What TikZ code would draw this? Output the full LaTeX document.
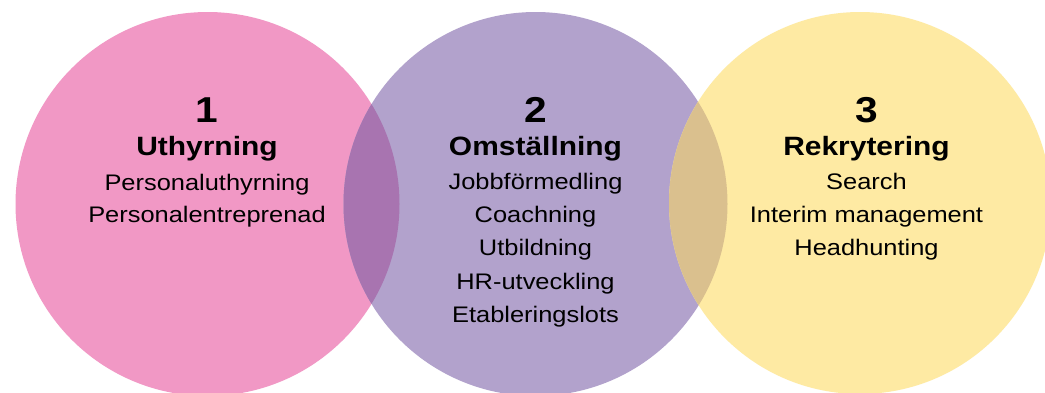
\documentclass[tikz,border=0pt]{standalone}
\usepackage{fontspec}
\setmainfont{Liberation Sans}[FakeStretch=1.13]
\definecolor{pinkc}{RGB}{241,152,197}
\definecolor{purplec}{RGB}{178,162,204}
\definecolor{yellowc}{RGB}{254,234,163}
\definecolor{ovpp}{RGB}{168,116,176}
\definecolor{ovpy}{RGB}{218,192,142}
\tikzset{
  numtxt/.style={anchor=base, inner sep=0pt, font=\fontsize{36}{40}\selectfont\bfseries},
  headtxt/.style={anchor=base, inner sep=0pt, font=\fontsize{26.5}{30}\selectfont\bfseries},
  itemtxt/.style={anchor=base, inner sep=0pt, font=\fontsize{22.5}{26}\selectfont},
}
\begin{document}
\begin{tikzpicture}[x=1pt,y=-1pt]
\clip (0,0) rectangle (1045,392);
\fill[white] (0,0) rectangle (1045,392);
\coordinate (c1) at (207.5,204);
\coordinate (c2) at (535.5,204);
\coordinate (c3) at (860,203);
\fill[pinkc] (c1) circle[radius=192];
\fill[purplec] (c2) circle[radius=192];
\fill[yellowc] (c3) circle[radius=191];
\begin{scope}
  \clip (c1) circle[radius=192];
  \fill[ovpp] (c2) circle[radius=192];
\end{scope}
\begin{scope}
  \clip (c2) circle[radius=192];
  \fill[ovpy] (c3) circle[radius=191];
\end{scope}
% circle 1
\node[numtxt] (n1) at (207,122.3) {1};
\node[headtxt] (h1) at (207,155.7) {Uthyrning};
\node[itemtxt] (a1) at (207,190) {Personaluthyrning};
\node[itemtxt] (a2) at (207,222.3) {Personalentreprenad};
% circle 2
\node[numtxt] (n2) at (535.5,122.3) {2};
\node[headtxt] (h2) at (535.5,155.7) {Omställning};
\node[itemtxt] (b1) at (535.5,189) {Jobbförmedling};
\node[itemtxt] (b2) at (535.5,222.3) {Coachning};
\node[itemtxt] (b3) at (535.5,255.7) {Utbildning};
\node[itemtxt] (b4) at (535.5,289) {HR-utveckling};
\node[itemtxt] (b5) at (535.5,322.3) {Etableringslots};
% circle 3
\node[numtxt] (n3) at (866.5,122.3) {3};
\node[headtxt] (h3) at (866.5,155.7) {Rekrytering};
\node[itemtxt] (d1) at (866.5,189) {Search};
\node[itemtxt] (d2) at (866.5,222.3) {Interim management};
\node[itemtxt] (d3) at (866.5,255.7) {Headhunting};
\end{tikzpicture}
\end{document}
